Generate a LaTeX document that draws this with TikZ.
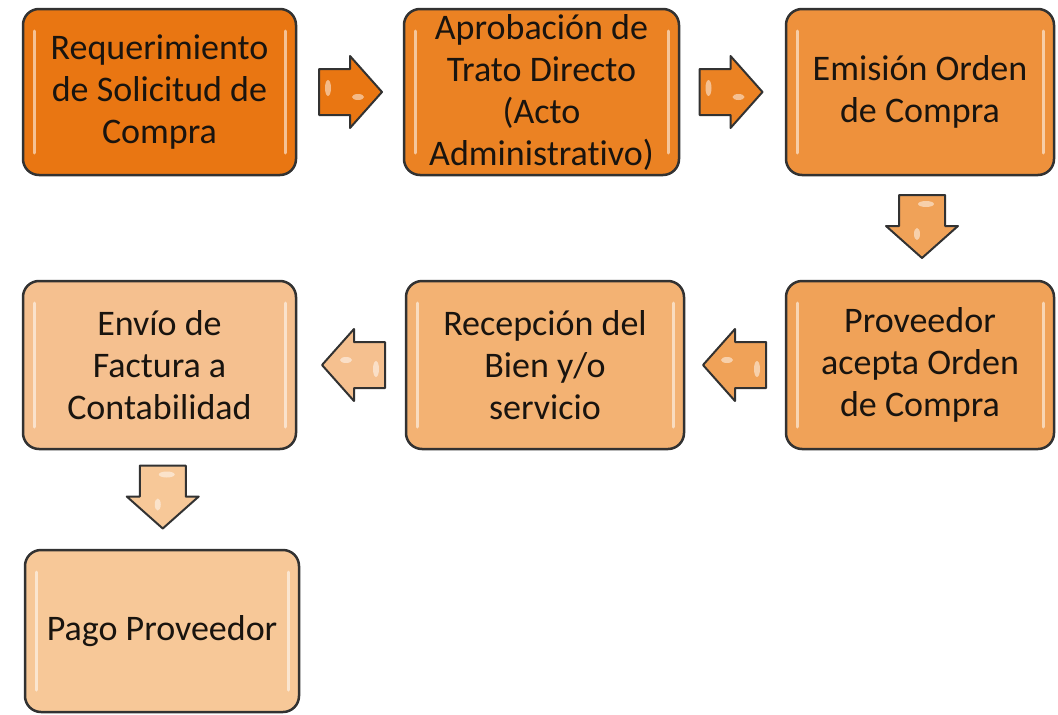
\documentclass[tikz,border=0pt]{standalone}
\usepackage{fontspec}
\setmainfont{Carlito}[Ligatures=NoCommon]
\usetikzlibrary{calc}
\definecolor{c1}{RGB}{233,118,18}
\definecolor{c2}{RGB}{235,130,35}
\definecolor{c3}{RGB}{238,145,60}
\definecolor{c4}{RGB}{240,162,88}
\definecolor{c5}{RGB}{243,178,115}
\definecolor{c6}{RGB}{245,192,143}
\definecolor{c7}{RGB}{247,200,152}
\definecolor{edge}{RGB}{50,50,50}
\definecolor{txt}{RGB}{25,20,15}
\begin{document}
\begin{tikzpicture}[x=1pt,y=-1pt,
  box/.style={draw=edge, line width=2.5pt, rounded corners=16pt,
    fill=#1, align=center, text=txt, inner sep=0pt,
    font=\fontsize{36}{42}\selectfont,
    path picture={
      \draw[white, opacity=.55, line width=3pt, line cap=round]
        ([xshift=11pt,yshift=-22pt]path picture bounding box.north west) --
        ([xshift=11pt,yshift=22pt]path picture bounding box.south west);
      \draw[white, opacity=.55, line width=3pt, line cap=round]
        ([xshift=-11pt,yshift=-22pt]path picture bounding box.north east) --
        ([xshift=-11pt,yshift=22pt]path picture bounding box.south east);
    }},
  pics/blockarrow/.style={code={
    \draw[draw=edge, line width=2pt, line join=round, fill=#1]
      (-31,-23) -- (0,-23) -- (0,-36) -- (32,0) -- (0,36) -- (0,23) -- (-31,23) -- cycle;
    \fill[white, opacity=.5] (-22,-4) ellipse (3 and 8);
    \fill[white, opacity=.5] (8,5) ellipse (6 and 3);
  }}
]
\useasboundingbox (0,0) rectangle (1058,715);

\node[box=c1, minimum width=273pt, minimum height=166pt] (n1) at (159.5,92)
  {Requerimiento\\de Solicitud de\\Compra};
\node[box=c2, minimum width=275pt, minimum height=166pt] (n2) at (541.5,92)
  {Aprobación de\\Trato Directo\\(Acto\\Administrativo)};
\node[box=c3, minimum width=268pt, minimum height=166pt] (n3) at (920,92)
  {Emisión Orden\\de Compra};
\node[box=c4, minimum width=268pt, minimum height=168pt] (n4) at (920,365)
  {Proveedor\\acepta Orden\\de Compra};
\node[box=c5, minimum width=278pt, minimum height=168pt] (n5) at (545,365)
  {Recepción del\\Bien y/o\\servicio};
\node[box=c6, minimum width=273pt, minimum height=168pt] (n6) at (159.5,365)
  {Envío de\\Factura a\\Contabilidad};
\node[box=c7, minimum width=274pt, minimum height=162pt] (n7) at (162,631)
  {Pago Proveedor};

\coordinate (m1) at ($(n1.east)!0.5!(n2.west)$);
\coordinate (m2) at ($(n2.east)!0.5!(n3.west)+(-2,0)$);
\coordinate (m3) at ($(n3.south)!0.5!(n4.north)+(2,-2)$);
\coordinate (m4) at ($(n4.west)!0.5!(n5.east)$);
\coordinate (m5) at ($(n5.west)!0.5!(n6.east)+(3,0)$);
\coordinate (m6) at ($(n6.south)!0.5!(n7.north)+(2,-3)$);

\pic at (m1) {blockarrow=c1};
\pic at (m2) {blockarrow=c2};
\pic[rotate=-90] at (m3) {blockarrow=c4};
\pic[rotate=180] at (m4) {blockarrow=c4};
\pic[rotate=180] at (m5) {blockarrow=c6};
\pic[rotate=-90] at (m6) {blockarrow=c7};
\end{tikzpicture}
\end{document}
